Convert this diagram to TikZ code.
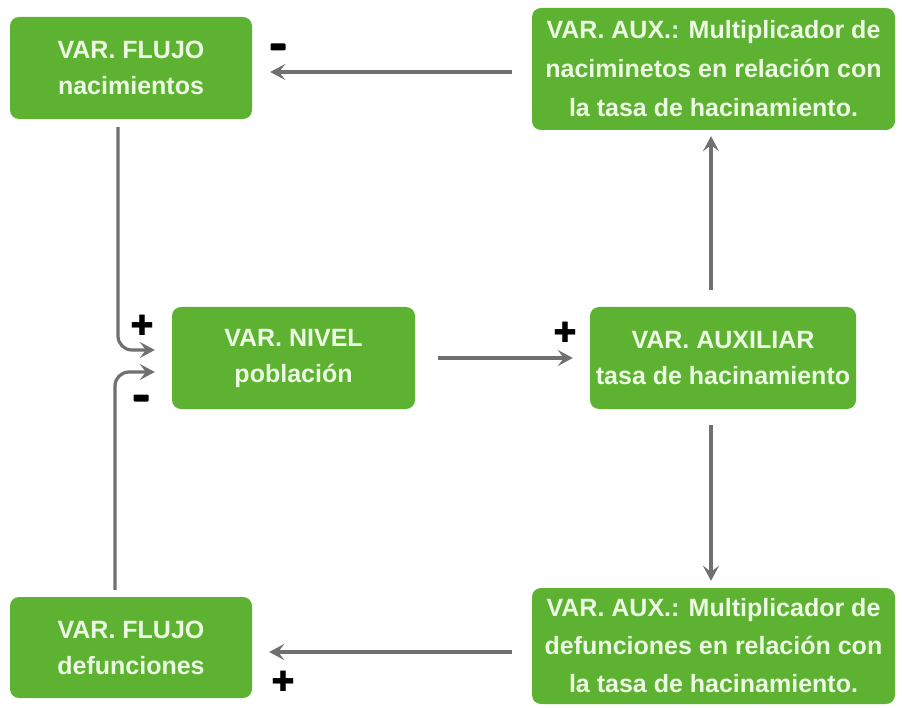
\documentclass[tikz,border=0pt]{standalone}
\usepackage{fontspec}
\setmainfont{Liberation Sans}
\newfontfamily\signfont{DejaVu Sans}
\usetikzlibrary{arrows.meta}
\definecolor{boxgreen}{RGB}{94,178,50}
\definecolor{txtwhite}{RGB}{236,250,228}
\definecolor{arrgray}{RGB}{112,112,112}
\begin{document}
\begin{tikzpicture}[x=1pt,y=-1pt,
  gbox/.style={fill=boxgreen, rounded corners=9pt, inner sep=0pt,
    text=txtwhite, font=\fontsize{25}{36}\selectfont\bfseries, align=center},
  arr/.style={draw=arrgray, line width=3.2pt, -{Stealth[length=15pt,width=16pt,inset=6pt]}},
  plussign/.style={font=\signfont\fontsize{28}{28}\selectfont, text=black, inner sep=0pt},
  minussign/.style={fill=black, inner sep=0pt, minimum width=15pt, minimum height=7pt, rounded corners=1pt}
]
\useasboundingbox (0,0) rectangle (902,708);
\fill[white] (0,0) rectangle (902,708);

\node[gbox, minimum width=242pt, minimum height=102pt] (b1) at (131,68)
  {VAR. FLUJO\\nacimientos};
\node[gbox, minimum width=363pt, minimum height=122pt, font=\fontsize{25}{39}\selectfont\bfseries] (b2) at (713.5,69)
  {VAR. AUX.: Multiplicador de\\naciminetos en relación con\\la tasa de hacinamiento.};
\node[gbox, minimum width=243pt, minimum height=102pt] (b3) at (293.5,358)
  {VAR. NIVEL\\población};
\node[gbox, minimum width=266pt, minimum height=102pt] (b4) at (723,358)
  {VAR. AUXILIAR\\tasa de hacinamiento};
\node[gbox, minimum width=242pt, minimum height=101pt] (b5) at (131,647.5)
  {VAR. FLUJO\\defunciones};
\node[gbox, minimum width=363pt, minimum height=116pt, font=\fontsize{25}{38}\selectfont\bfseries] (b6) at (713.5,646)
  {VAR. AUX.: Multiplicador de\\defunciones en relación con\\la tasa de hacinamiento.};

% connectors
\draw[arr, shorten <=20pt, shorten >=18pt] ([yshift=-3pt]b2.west) -- ([yshift=-4pt]b1.east);
\draw[arr, rounded corners=14pt, shorten <=8pt] ([xshift=-13pt]b1.south) |- ([xshift=-17pt,yshift=8pt]b3.west);
\draw[arr, rounded corners=14pt, shorten <=7pt] ([xshift=-16pt]b5.north) |- ([xshift=-17pt,yshift=-14pt]b3.west);
\draw[arr, shorten <=23pt, shorten >=17pt] (b3.east) -- (b4.west);
\draw[arr, shorten <=17pt, shorten >=6pt] ([xshift=-12pt]b4.north) -- ([xshift=-2.5pt]b2.south);
\draw[arr, shorten <=16pt, shorten >=7pt] ([xshift=-12pt]b4.south) -- ([xshift=-2.5pt]b6.north);
\draw[arr, shorten <=20pt, shorten >=17pt] ([yshift=-6pt]b6.west) -- ([yshift=-4.5pt]b5.east);

% signs
\node[minussign] (s1) at (278,47) {};
\node[plussign] (s2) at (142,325) {✚};
\node[minussign] (s3) at (141,398) {};
\node[plussign] (s4) at (565,332) {✚};
\node[plussign] (s5) at (283,681) {✚};
\end{tikzpicture}
\end{document}
